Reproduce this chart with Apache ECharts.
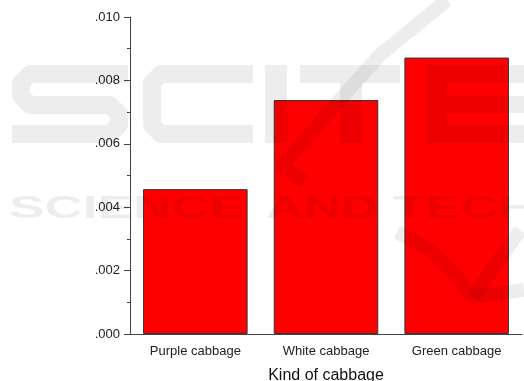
<!DOCTYPE html>
<html>
<head>
<meta charset="utf-8">
<script src="https://cdn.jsdelivr.net/npm/echarts@6/dist/echarts.min.js"></script>
<style>
  html, body { margin: 0; padding: 0; background: #fff; }
  #chart { width: 524px; height: 381px; }
</style>
</head>
<body>
<div id="chart"></div>
<script>
const categories = ['Purple cabbage', 'White cabbage', 'Green cabbage']
const values = [0.00457, 0.00738, 0.00872]
const yMin = 0
const yMax = 0.01
const yStep = 0.002

const font = 'Liberation Sans, Arial, sans-serif'
const wm = 'rgba(0,0,0,0.07)'

const chart = echarts.init(document.getElementById('chart'))

// faint publisher watermark drawn over the plot
const stroke = (points, w) => ({
  type: 'polyline',
  shape: { points },
  style: { stroke: wm, lineWidth: w || 18, fill: null, lineJoin: 'round' }
})
const block = (x, y, width, height) => ({ type: 'rect', shape: { x, y, width, height }, style: { fill: wm } })
const word = (text, x, sx) => ({
  type: 'text', x, y: 193, scaleX: sx,
  style: { text, font: 'bold 32px ' + font, fill: wm }
})

const watermark = [
  stroke([[128, 74], [30, 74], [21, 83], [21, 96], [30, 105], [110, 105], [119, 114], [119, 125], [110, 134], [12, 134]]),
  stroke([[253, 74], [161, 74], [152, 83], [152, 125], [161, 134], [253, 134]]),
  block(265, 65, 22, 78),
  block(300, 65, 100, 18),
  block(340, 83, 22, 60),
  block(427, 65, 20, 78),
  block(447, 65, 77, 18),
  block(447, 96, 77, 17),
  block(447, 125, 77, 18),
  word('SCIENCE', 9, 1.66),
  word('AND', 266, 1.62),
  word('TECH', 393, 1.65),
  stroke([[447, 0], [380, 55], [337, 103], [282, 166], [305, 182]], 14),
  stroke([[397, 232], [430, 250], [455, 275], [473, 297], [524, 290]], 14),
  stroke([[473, 297], [520, 230]], 14)
]

chart.setOption({
  animation: false,
  textStyle: { fontFamily: font },
  grid: { left: 130, right: 2, top: 17, bottom: 47, outerBoundsMode: 'none', containLabel: false },
  graphic: watermark.map(g => Object.assign({ z: 100, silent: true }, g)),
  xAxis: [
    {
      type: 'category',
      data: categories,
      name: 'Kind of cabbage',
      nameLocation: 'middle',
      nameGap: 34,
      nameTextStyle: { fontSize: 16, color: '#111' },
      axisLine: { lineStyle: { color: '#444', width: 1 } },
      axisTick: { alignWithLabel: true, length: 6, lineStyle: { color: '#444' } },
      axisLabel: { fontSize: 13, color: '#222', margin: 11 }
    },
    {
      type: 'category',
      data: categories,
      position: 'bottom',
      axisLine: { show: false },
      axisTick: { alignWithLabel: false, length: 3, lineStyle: { color: '#444' } },
      axisLabel: { show: false }
    }
  ],
  yAxis: {
    type: 'value',
    min: yMin,
    max: yMax,
    interval: yStep,
    splitLine: { show: false },
    axisLine: { show: true, lineStyle: { color: '#444', width: 1 } },
    axisTick: { show: true, length: 6, lineStyle: { color: '#444' } },
    minorTick: { show: true, splitNumber: 2, length: 3, lineStyle: { color: '#444' } },
    axisLabel: {
      fontSize: 13,
      color: '#222',
      margin: 10,
      formatter: v => v.toFixed(3).replace(/^0/, '')
    }
  },
  series: [
    {
      type: 'bar',
      data: values,
      barCategoryGap: '20%',
      itemStyle: { color: '#ff0000', borderColor: '#333', borderWidth: 1 }
    }
  ]
})
</script>
</body>
</html>
